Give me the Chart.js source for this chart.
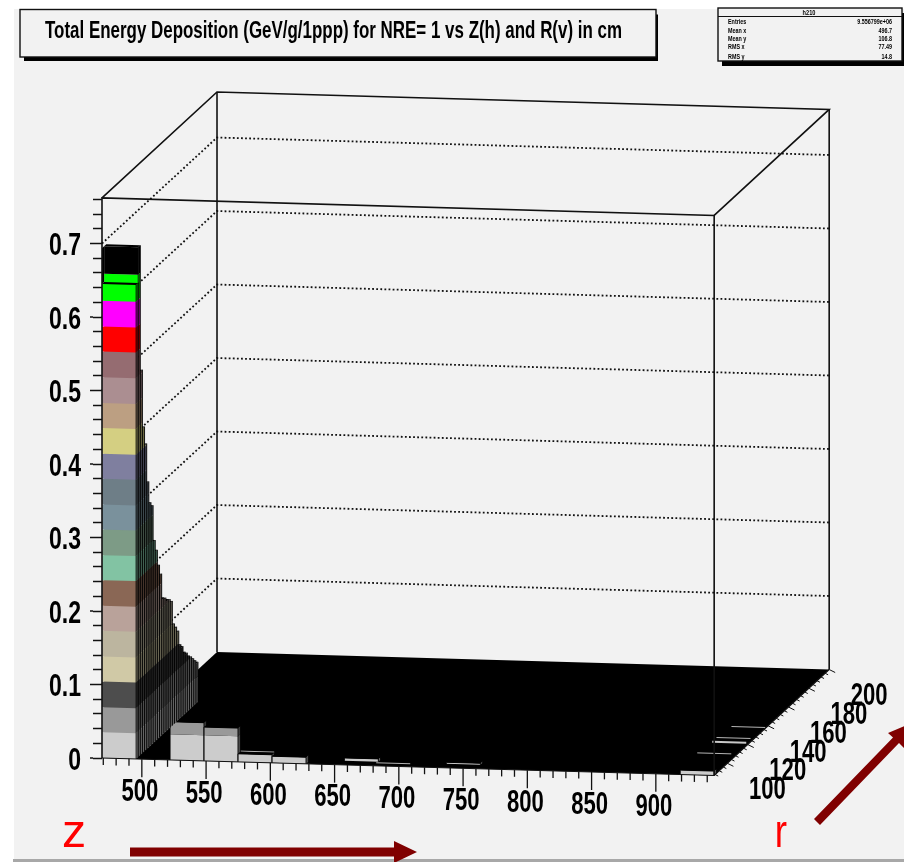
<!DOCTYPE html>
<html>
<head>
<meta charset="utf-8">
<title>Total Energy Deposition</title>
<script src="https://cdn.jsdelivr.net/npm/chart.js@4"></script>
<style>
  html, body { margin: 0; padding: 0; background: #fff; }
  canvas { display: block; filter: blur(0.45px); }
</style>
</head>
<body>
<canvas id="lego-chart" width="904" height="862"></canvas>
<script>
// Axis ranges
const zRange = [469, 945.4];
const rRange = [87, 200];
const energyTop = 0.762;
const zBinCount = 18;
const rBinWidth = 2.1;

// Tick labels
const zTickLabels = [500, 550, 600, 650, 700, 750, 800, 850, 900];
const rTickLabels = [100, 120, 140, 160, 180, 200];
const energyTickLabels = [0, 0.1, 0.2, 0.3, 0.4, 0.5, 0.6, 0.7];
const energyTicks = [0, 0.02, 0.04, 0.06, 0.08, 0.1, 0.12, 0.14, 0.16, 0.18, 0.2, 0.22, 0.24, 0.26, 0.28, 0.3, 0.32, 0.34, 0.36, 0.38, 0.4, 0.42, 0.44, 0.46, 0.48, 0.5, 0.52, 0.54, 0.56, 0.58, 0.6, 0.62, 0.64, 0.66, 0.68, 0.7, 0.72, 0.74, 0.76];

// Lego colour levels, bottom to top
const levelEdges = [0, 0.035, 0.069, 0.104, 0.138, 0.173, 0.207, 0.242, 0.276, 0.311, 0.345, 0.38, 0.414, 0.449, 0.483, 0.518, 0.553, 0.587, 0.622, 0.656, 0.7];
const levelColors = ["#cccccc", "#999999", "#4d4d4d", "#d0c9a6", "#bcb59f", "#b9a29a", "#8a6755", "#82c3a3", "#7d9b86", "#7a919c", "#6e7e87", "#7f7f9f", "#d4cf82", "#bc9f82", "#ab8e91", "#956c71", "#ff0000", "#ff00ff", "#00ff00", "#000000"];

// First z bin: deposited energy per r bin, front to back
const firstColumnEnergy = [0.645, 0.6935, 0.5216, 0.4416, 0.4158, 0.3616, 0.3306, 0.3238, 0.2737, 0.2577, 0.2347, 0.22, 0.185, 0.182, 0.177, 0.1746, 0.1695, 0.136, 0.129, 0.121, 0.0999, 0.0946, 0.0843, 0.0803, 0.0737, 0.0698, 0.0646, 0.0593, 0.0544];

// Small bars standing on the floor
const floorBarZBin = [2, 3, 4, 5, 7, 10, 17];
const floorBarRBin = [0, 0, 0, 0, 2, 2, 0];
const floorBarEnergy = [0.052, 0.046, 0.011, 0.009, 0.004, 0.002, 0.006];

// Very thin bars, only their top edge shows
const thinBarZBin = [4, 8, 17, 17, 17, 17];
const thinBarRBin = [1, 1, 8, 15, 17, 24];
const thinBarEnergy = [0.012, 0.0014, 0.008, 0.0044, 0.0048, 0.001];

// Stats box
const statLabels = ["Entries", "Mean x", "Mean y", "RMS x", "RMS y"];
const statValues = ["9.556799e+06", "496.7", "106.8", "77.49", "14.8"];

const titleText = "Total Energy Deposition (GeV/g/1ppp) for NRE= 1 vs Z(h) and R(v) in cm";

// Oblique view: going back in r moves right and up, going along z sinks a little
const zBinWidth = (zRange[1] - zRange[0]) / zBinCount;
const shearZ = 89.5 / (rRange[1] - rRange[0]);
const shearEnergy = 0.1442 / (rRange[1] - rRange[0]);
const tiltEnergy = 0.0238 / (zRange[1] - zRange[0]);

const project = (z, r, energy) => ({
  x: z + (r - rRange[0]) * shearZ,
  y: energy + (r - rRange[0]) * shearEnergy - (z - zRange[0]) * tiltEnergy,
});

const zEdge = (bin) => zRange[0] + bin * zBinWidth;
const rEdge = (bin) => rRange[0] + bin * rBinWidth;

const shade = (hex, factor) => {
  const value = parseInt(hex.slice(1), 16);
  const r = Math.round(((value >> 16) & 255) * factor);
  const g = Math.round(((value >> 8) & 255) * factor);
  const b = Math.round((value & 255) * factor);
  return `rgb(${r},${g},${b})`;
};

const paintList = [];

const addPolygon = (points, color) => {
  paintList.push({
    data: points,
    fill: "shape",
    backgroundColor: color,
    borderColor: color,
    borderWidth: 0,
    pointRadius: 0,
    tension: 0,
    clip: false,
  });
};

const addLine = (points, color, width, dash) => {
  paintList.push({
    data: points,
    fill: false,
    borderColor: color,
    borderWidth: width,
    borderDash: dash || [],
    pointRadius: 0,
    tension: 0,
    clip: false,
  });
};

// Lego column, cut in colour levels. The faces are painted back to front
const addColumn = (zBin, rBin, energy, outlined) => {
  const zLo = zEdge(zBin);
  const zHi = zEdge(zBin + 1);
  const rLo = rEdge(rBin);
  const rHi = rEdge(rBin + 1);
  levelColors.forEach((color, index) => {
    const bottom = levelEdges[index];
    if (bottom >= energy) return;
    const top = Math.min(levelEdges[index + 1], energy);
    addPolygon(
      [project(zHi, rLo, bottom), project(zHi, rHi, bottom), project(zHi, rHi, top), project(zHi, rLo, top)],
      shade(color, 0.5)
    );
    addPolygon(
      [project(zLo, rLo, bottom), project(zHi, rLo, bottom), project(zHi, rLo, top), project(zLo, rLo, top)],
      color
    );
  });
  addPolygon(
    [project(zLo, rLo, energy), project(zHi, rLo, energy), project(zHi, rHi, energy), project(zLo, rHi, energy)],
    "#000000"
  );
  addLine([project(zHi, rHi, 0), project(zHi, rHi, energy)], "#000000", 0.9);
  addLine([project(zHi, rLo, 0), project(zHi, rLo, energy)], "#000000", outlined ? 1 : 0.7);
  if (outlined) {
    addLine([project(zLo, rLo, 0), project(zLo, rLo, energy)], "#000000", 1);
    addLine([project(zLo, rLo, energy), project(zHi, rLo, energy)], "#000000", 1);
  }
};

const [zMin, zMax] = zRange;
const [rMin, rMax] = rRange;

// Dotted grid on the side wall and back wall
energyTickLabels.slice(1).forEach((energy) => {
  addLine([project(zMin, rMin, energy), project(zMin, rMax, energy), project(zMax, rMax, energy)], "#111111", 1.8, [1.8, 2.3]);
});

// Box edges behind the bars
addLine([project(zMin, rMax, 0), project(zMin, rMax, energyTop)], "#111111", 1.6);
addLine([project(zMax, rMax, 0), project(zMax, rMax, energyTop)], "#111111", 1.6);
addLine([project(zMin, rMin, energyTop), project(zMin, rMax, energyTop), project(zMax, rMax, energyTop), project(zMax, rMin, energyTop)], "#111111", 1.6);

// Floor
addPolygon([project(zMin, rMin, 0), project(zMax, rMin, 0), project(zMax, rMax, 0), project(zMin, rMax, 0)], "#000000");

// Thin bars sit far back, then the first z bin from back to front
thinBarZBin.forEach((bin, index) => {
  const r = rEdge(thinBarRBin[index]);
  const energy = thinBarEnergy[index];
  addLine([project(zEdge(bin), r, energy), project(zEdge(bin + 1), r, energy)], "#c8c8c8", index === 3 ? 2 : 0.9);
});
floorBarZBin.forEach((bin, index) => {
  addColumn(bin, floorBarRBin[index], floorBarEnergy[index], true);
});
for (let rBin = firstColumnEnergy.length - 1; rBin >= 0; rBin--) {
  addColumn(0, rBin, firstColumnEnergy[rBin], false);
}

// Black cap joining the two front columns at the left edge
addPolygon(
  [project(zMin, rEdge(0), firstColumnEnergy[0]), project(zMin, rEdge(1), firstColumnEnergy[0]), project(zMin, rEdge(1), firstColumnEnergy[1]), project(zMin, rEdge(0), firstColumnEnergy[1])],
  "#000000"
);

// Box edges in front
addLine([project(zMin, rMin, 0), project(zMin, rMin, energyTop), project(zMax, rMin, energyTop), project(zMax, rMin, 0)], "#111111", 1.6);
addLine([project(zMin, rMin, 0), project(zMax, rMin, 0), project(zMax, rMax, 0)], "#111111", 1.2);

const drawText = (ctx, text, x, y, font, scaleX, align, color) => {
  ctx.save();
  ctx.font = font;
  ctx.fillStyle = color || "#000000";
  ctx.textAlign = align || "center";
  ctx.textBaseline = "middle";
  ctx.translate(x, y);
  ctx.scale(scaleX, 1);
  ctx.fillText(text, 0, 0);
  ctx.restore();
};

const fillShape = (ctx, corners, color) => {
  ctx.fillStyle = color;
  ctx.beginPath();
  corners.forEach(([x, y], index) => (index ? ctx.lineTo(x, y) : ctx.moveTo(x, y)));
  ctx.closePath();
  ctx.fill();
};

const drawBox = (ctx, left, top, right, bottom, shadow) => {
  ctx.fillStyle = "#000000";
  ctx.fillRect(left + 4, top + 5, right - left - 2, bottom - top - 2 + shadow - 3);
  ctx.fillStyle = "#f2f2f2";
  ctx.fillRect(left, top, right - left, bottom - top);
  ctx.strokeStyle = "#111111";
  ctx.lineWidth = 1.4;
  ctx.strokeRect(left, top, right - left, bottom - top);
};

const panelPlugin = {
  id: "panelPlugin",
  beforeDraw(chart) {
    const { ctx, width, height } = chart;
    ctx.save();
    ctx.fillStyle = "#ffffff";
    ctx.fillRect(0, 0, width, height);
    ctx.fillStyle = "#f2f2f2";
    ctx.fillRect(14, 9, width - 14, height - 12);
    ctx.fillStyle = "#a8a8a8";
    ctx.fillRect(13, height - 3, width - 13, 3);
    ctx.restore();
  },
  afterDraw(chart) {
    const { ctx, scales } = chart;
    const toPixel = (point) => [scales.x.getPixelForValue(point.x), scales.y.getPixelForValue(point.y)];
    ctx.save();
    ctx.strokeStyle = "#111111";
    ctx.lineCap = "butt";

    // Energy axis labels and the longer major ticks
    ctx.lineWidth = 1.5;
    energyTickLabels.forEach((energy) => {
      const y = scales.y.getPixelForValue(energy);
      ctx.beginPath();
      ctx.moveTo(90, y);
      ctx.lineTo(93, y);
      ctx.stroke();
      drawText(ctx, String(energy), 81, y + 3, "bold 32px 'Liberation Sans'", 0.72, "right");
    });

    // z axis ticks, every 10 cm
    ctx.lineWidth = 1.3;
    for (let z = 470; z <= 940; z += 10) {
      const [x, y] = toPixel(project(z, rMin, 0));
      ctx.beginPath();
      ctx.moveTo(x, y);
      ctx.lineTo(x, y + (z % 50 === 0 ? 18 : 7));
      ctx.stroke();
    }
    zTickLabels.forEach((z) => {
      const [x, y] = toPixel(project(z, rMin, 0));
      drawText(ctx, String(z), x - 2, y + 33, "bold 32px 'Liberation Sans'", 0.69);
    });

    // r axis ticks
    ctx.lineWidth = 1;
    for (let r = 88; r <= 200; r += 4) {
      const [x, y] = toPixel(project(zMax, r, 0));
      const major = r % 20 === 0;
      ctx.beginPath();
      ctx.moveTo(x, y);
      ctx.lineTo(x + (major ? 6 : 3), y + (major ? 3 : 1.5));
      ctx.stroke();
    }
    rTickLabels.forEach((r) => {
      const [x, y] = toPixel(project(zMax, r, 0));
      drawText(ctx, String(r), x + 40, y + 27, "bold 32px 'Liberation Sans'", 0.69);
    });

    // Direction arrows
    fillShape(ctx, [[130, 847.5], [394, 847.5], [394, 841], [417, 852], [394, 863], [394, 856.5], [130, 856.5]], "#800000");
    fillShape(ctx, [[814, 819], [893, 737.5], [888, 733], [912, 723], [904, 748], [899, 743], [820, 825]], "#800000");
    drawText(ctx, "z", 74, 834, "46px 'Liberation Sans'", 1.05, "center", "#ff0000");
    drawText(ctx, "r", 781, 834, "46px 'Liberation Sans'", 0.8, "center", "#ff0000");

    // Title box
    drawBox(ctx, 20, 9.5, 656, 57, 4);
    ctx.font = "bold 23px 'Liberation Sans'";
    const titleScale = 577 / ctx.measureText(titleText).width;
    drawText(ctx, titleText, 45, 32, "bold 23px 'Liberation Sans'", titleScale, "left");

    // Stats box
    drawBox(ctx, 718, 8, 902, 61, 5);
    ctx.lineWidth = 1.2;
    ctx.beginPath();
    ctx.moveTo(718, 16.5);
    ctx.lineTo(902, 16.5);
    ctx.stroke();
    const statFont = "bold 7.5px 'Liberation Sans'";
    drawText(ctx, "h210", 809, 12.5, statFont, 0.75);
    const statRows = [22, 31, 39, 47, 57];
    statLabels.forEach((label, index) => {
      drawText(ctx, label, 728, statRows[index], statFont, 0.72, "left");
      drawText(ctx, statValues[index], 892, statRows[index], statFont, 0.72, "right");
    });
    ctx.restore();
  },
};

new Chart(document.querySelector("#lego-chart"), {
  type: "line",
  data: {
    // Chart.js paints the first dataset last
    datasets: paintList.slice().reverse(),
  },
  plugins: [panelPlugin],
  options: {
    responsive: false,
    animation: false,
    events: [],
    layout: { padding: 0, autoPadding: false },
    plugins: {
      legend: { display: false },
      tooltip: { enabled: false },
      title: { display: false },
    },
    scales: {
      x: {
        type: "linear",
        display: false,
        min: zMin,
        max: zMin + 802 / 1.285,
      },
      y: {
        type: "linear",
        position: "left",
        min: (758 - 862) / 735,
        max: 758 / 735,
        afterBuildTicks: (scale) => {
          scale.ticks = energyTicks.map((value) => ({ value }));
        },
        afterFit: (scale) => {
          scale.width = 102;
        },
        border: { display: false },
        grid: {
          drawOnChartArea: false,
          drawTicks: true,
          tickLength: 9,
          tickColor: "#111111",
          tickWidth: 1.5,
        },
        ticks: {
          display: false,
          autoSkip: false,
        },
      },
    },
  },
});
</script>
</body>
</html>
